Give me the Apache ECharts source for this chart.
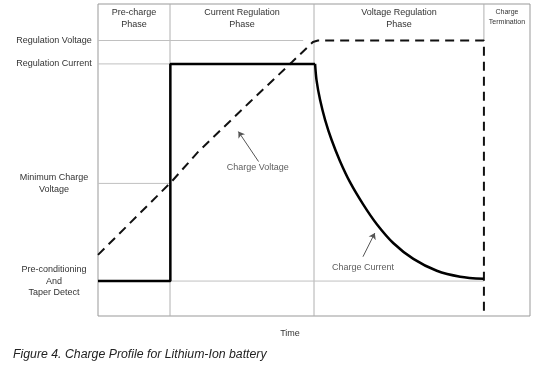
<!DOCTYPE html>
<html>
<head>
<meta charset="utf-8">
<script src="https://cdn.jsdelivr.net/npm/echarts@6/dist/echarts.min.js"></script>
<style>html,body{margin:0;padding:0;background:#fff}#c{width:540px;height:368px}</style>
</head>
<body>
<div id="c"></div>
<script>
// Phases (x in time units)
const phaseNames = ['Pre-charge\nPhase', 'Current Regulation\nPhase', 'Voltage Regulation\nPhase', 'Charge\nTermination'];
const phaseBounds = [0, 2, 6, 10.72, 12];
// Reference levels (y units)
const levelNames = ['Regulation Voltage', 'Regulation Current', 'Minimum Charge\nVoltage', 'Pre-conditioning\nAnd\nTaper Detect'];
const levelValues = [8.83, 8.08, 4.25, 1.12];
const levelEnds = [5.7, 2, 2, 10.72];
// Charge voltage (dashed)
const voltageX = [0, 2.03, 2.78, 4.22, 5.39, 5.97, 6.11, 10.72, 10.72];
const voltageY = [1.96, 4.29, 5.26, 6.86, 8.14, 8.78, 8.83, 8.83, 0];
// Charge current (solid) - step part
const currentStepX = [0, 2.01, 2.01, 6.03];
const currentStepY = [1.12, 1.12, 8.08, 8.08];
// Charge current - taper part
const currentTaperX = [6.03, 6.07, 6.17, 6.31, 6.49, 6.72, 7.00, 7.37, 7.74, 8.20, 8.76, 9.41, 10.06, 10.71];
const currentTaperY = [8.08, 7.56, 6.92, 6.28, 5.64, 4.97, 4.29, 3.57, 2.95, 2.34, 1.83, 1.45, 1.26, 1.19];
// Annotations
const annoNames = ['Charge Voltage', 'Charge Current'];
const annoLabelPos = [[4.44, 4.75], [7.36, 1.54]];
const annoArrows = [[[4.46, 4.95], [3.90, 5.91]], [[7.36, 1.90], [7.69, 2.66]]];

const zip = (xs, ys) => xs.map((x, i) => [x, ys[i]]);
const phaseMids = phaseNames.map((_, i) => (phaseBounds[i] + phaseBounds[i + 1]) / 2);

const series = [];
// phase separators
[1, 2].forEach(i => {
  series.push({type: 'line', data: [[phaseBounds[i], 0], [phaseBounds[i], 10]], symbol: 'none', silent: true,
    lineStyle: {color: '#b0b0b0', width: 1}, z: 1});
});
series.push({type: 'line', data: [[phaseBounds[3], 10], [phaseBounds[3], levelValues[0]]], symbol: 'none', silent: true,
  lineStyle: {color: '#b0b0b0', width: 1}, z: 1});
// level guide lines
levelValues.forEach((v, i) => {
  series.push({type: 'line', data: [[0, v], [levelEnds[i], v]], symbol: 'none', silent: true,
    lineStyle: {color: '#c0c0c0', width: 1}, z: 1});
});
series.push({type: 'line', name: 'Charge Voltage', data: zip(voltageX, voltageY), symbol: 'none',
  lineStyle: {color: '#111', width: 2, type: [9, 6]}, z: 3});
series.push({type: 'line', name: 'Charge Current', data: zip(currentStepX, currentStepY), symbol: 'none',
  lineStyle: {color: '#000', width: 2.5}, z: 4});
series.push({type: 'line', data: zip(currentTaperX, currentTaperY), symbol: 'none', smooth: 0.3,
  lineStyle: {color: '#000', width: 2.5}, z: 4});
series.push({type: 'lines', coordinateSystem: 'cartesian2d', symbol: ['none', 'arrow'], symbolSize: 6,
  data: annoArrows.map(c => ({coords: c})), lineStyle: {color: '#555', width: 1, opacity: 1}, z: 5});
series.push({type: 'scatter', symbolSize: 0, data: annoLabelPos.map((p, i) => ({value: p, name: annoNames[i]})),
  label: {show: true, position: 'inside', formatter: p => p.name, color: '#333', fontSize: 9, fontFamily: 'Liberation Sans'}, z: 5});

const chart = echarts.init(document.getElementById('c'), null, {renderer: 'canvas'});
chart.setOption({
  animation: false,
  backgroundColor: '#fff',
  title: {text: 'Figure 4. Charge Profile for Lithium-Ion battery', left: 8, top: 344,
    textStyle: {fontSize: 12.3, fontStyle: 'italic', fontWeight: 'normal', color: '#222', fontFamily: 'Liberation Sans'}},
  grid: {left: 98, top: 4, width: 432, height: 312, show: true, borderColor: '#999', borderWidth: 1, backgroundColor: 'transparent'},
  xAxis: [{
    type: 'value', min: 0, max: 12, position: 'bottom',
    name: 'Time', nameLocation: 'middle', nameGap: 13,
    nameTextStyle: {fontSize: 9, color: '#333', fontFamily: 'Liberation Sans', padding: [0, 48, 0, 0], verticalAlign: 'top'},
    axisLine: {show: false}, axisTick: {show: false}, axisLabel: {show: false}, splitLine: {show: false}
  }, {
    type: 'value', min: 0, max: 12, position: 'top',
    axisLine: {show: false}, axisTick: {show: false}, splitLine: {show: false},
    axisLabel: {
      show: true, inside: true, margin: 3, customValues: phaseMids, verticalAlign: 'top', align: 'center',
      fontSize: 9, lineHeight: 12, color: '#333', fontFamily: 'Liberation Sans',
      formatter: v => {
        const i = phaseMids.findIndex(m => Math.abs(m - v) < 1e-6);
        if (i < 0) return '';
        if (i === 3) return phaseNames[i].split('\n').map(s => '{s|' + s + '}').join('\n');
        return phaseNames[i];
      },
      rich: {s: {fontSize: 7, lineHeight: 10, color: '#333', fontFamily: 'Liberation Sans'}}
    }
  }],
  yAxis: {
    type: 'value', min: 0, max: 10,
    axisLine: {show: false}, axisTick: {show: false}, splitLine: {show: false},
    axisLabel: {
      show: true, customValues: levelValues, align: 'center', margin: 44,
      fontSize: 9, lineHeight: 11.5, color: '#333', fontFamily: 'Liberation Sans',
      formatter: v => {
        const i = levelValues.findIndex(m => Math.abs(m - v) < 1e-6);
        return i < 0 ? '' : levelNames[i];
      }
    }
  },
  series: series
});
</script>
</body>
</html>
